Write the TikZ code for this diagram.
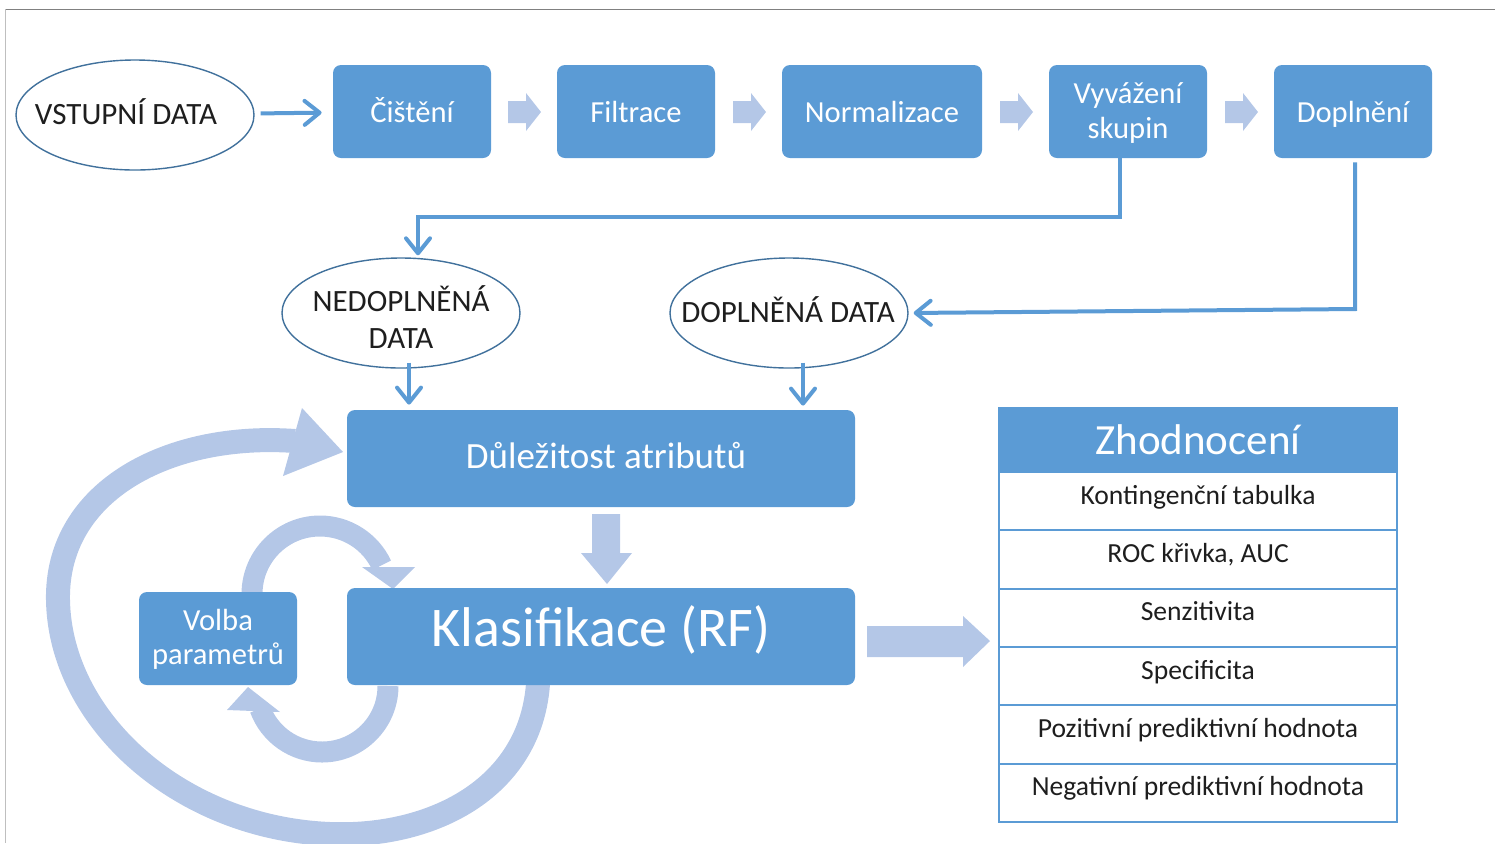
\documentclass[tikz,border=0pt]{standalone}
\usepackage{fontspec}
\setmainfont{Carlito}
\usetikzlibrary{arrows.meta,shapes.geometric,calc}
\definecolor{mblue}{HTML}{5B9BD5}
\definecolor{lblue}{HTML}{B4C7E7}
\definecolor{eblue}{HTML}{41719C}
\definecolor{txtc}{HTML}{1E1E1E}
\newcommand{\lowtwo}[2]{\raisebox{-1pt}[\height][\depth]{\begin{tabular}{@{}c@{}}#1\\#2\end{tabular}}}
\begin{document}
\begin{tikzpicture}[x=0.5pt,y=-0.5pt,
 pbox/.style={fill=mblue, draw=none, rounded corners=4pt, text=white, align=center, inner sep=0pt,
   minimum width=79pt, minimum height=46.5pt, font=\fontsize{15.3}{17.5}\selectfont},
 one/.style={text height=10.5pt, text depth=0pt},
 dataell/.style={ellipse, draw=eblue, line width=0.7pt, minimum width=119pt, minimum height=55pt, inner sep=0pt},
 etxt/.style={text=txtc, align=center, font=\fontsize{15.5}{18.5}\selectfont, inner sep=0pt},
 conn/.style={draw=mblue, line width=2pt, -{Straight Barb[length=7.5pt,width=12pt,round]}},
 loopc/.style={draw=lblue},
 trow/.style={draw=mblue, line width=1pt, minimum width=199pt, minimum height=29.15pt, inner sep=0pt,
   text=txtc, font=\fontsize{13.8}{16}\selectfont, text height=9pt, text depth=6pt},
]
\useasboundingbox (0,0) rectangle (1495,843);
\clip (0,0) rectangle (1495,843);
% frame lines
\draw[gray, line width=0.5pt] (5,9) -- (1495,9);
\draw[gray!50, line width=0.5pt] (5,9) -- (5,843);

% thick light loops (under boxes)
\draw[loopc, line width=12pt] (538,684) .. controls (530,790) and (430,838) .. (330,834)
   .. controls (180,828) and (60,720) .. (58,600)
   .. controls (56,490) and (170,432) .. (295,441);
\fill[lblue] (343,452) -- (302,408) -- (283,476) -- cycle;
\draw[loopc, line width=10.5pt] (252,594) arc[start angle=180, end angle=335, radius=68];
\fill[lblue] (362,567) -- (415,567) -- (393,589) -- cycle;
\draw[loopc, line width=10.5pt] (388,686) arc[start angle=0, end angle=160, radius=66];
\fill[lblue] (248,687) -- (227,710) -- (280,712) -- cycle;

% input ellipse
\node[dataell] (vst) at (135,115) {};
\node[etxt, anchor=base] (vstt) at (126,124.5) {VSTUPNÍ DATA};

% pipeline boxes
\node[pbox, one] (cis) at (412,111.5) {Čištění};
\node[pbox, one] (fil) at (636,111.5) {Filtrace};
\node[pbox, one, minimum width=100pt] (nor) at (882,111.5) {Normalizace};
\node[pbox] (vyv) at (1128,111.5) {\lowtwo{Vyvážení}{skupin}};
\node[pbox, one] (dop) at (1353,111.5) {Doplnění};

% small block arrows
\foreach \x in {508,733,1000,1225}{
  \fill[lblue] (\x,101) -- (\x+18,101) -- (\x+18,93) -- (\x+33,112) -- (\x+18,131) -- (\x+18,123) -- (\x,123) -- cycle;
}

\draw[conn, shorten <=3pt, shorten >=5.5pt] (vst) -- (cis);

% data ellipses
\node[dataell] (ned) at (401,313) {};
\node[etxt] (nedt) at (401,317) {NEDOPLNĚNÁ\\DATA};
\node[dataell] (dd) at (789,313) {};
\node[etxt, anchor=base] (ddt) at (788,322.5) {DOPLNĚNÁ DATA};

% connectors from pipeline
\draw[conn, shorten >=1pt] ([xshift=-4pt]vyv.south) -- ++(0,59) -| ([xshift=8.5pt]ned.north);
\coordinate (dc) at (1355,309);
\draw[conn, shorten >=2.5pt] ([xshift=1pt,yshift=-2pt]dop.south) -- (dc) -- (dd.east);

% main boxes
\node[pbox, minimum width=254pt, minimum height=48.5pt, font=\fontsize{18.5}{21}\selectfont, text height=10pt, text depth=0pt] (dul) at (601,458.5) {\hspace*{5pt}Důležitost atributů};
\node[pbox, minimum width=254pt, minimum height=48.5pt, font=\fontsize{28}{32}\selectfont, text height=18.5pt, text depth=9pt] (kla) at (601,636.5) {Klasifikace (RF)};
\node[pbox, font=\fontsize{15.3}{17}\selectfont] (vol) at (218,638.5) {\lowtwo{Volba}{parametrů}};

\draw[conn, shorten >=2.5pt] ([xshift=4pt,yshift=3pt]ned.south) -- ([xshift=4pt]ned.south |- dul.north);
\draw[conn, shorten >=2pt] ([xshift=7pt,yshift=3pt]dd.south) -- ([xshift=7pt]dd.south |- dul.north);

% block arrow down
\fill[lblue] (592,514) -- (620,514) -- (620,553) -- (632,553) -- (607,584) -- (581,553) -- (592,553) -- cycle;
% block arrow right
\fill[lblue] (867,626) -- (963,626) -- (963,616) -- (990,641) -- (963,667) -- (963,657) -- (867,657) -- cycle;

% evaluation table
\node[draw=mblue, fill=mblue, line width=1pt, minimum width=199pt, minimum height=32pt, inner sep=0pt,
  text=white, font=\fontsize{21.5}{24}\selectfont, text height=14pt, text depth=0pt] (zh) at (1198,440) {Zhodnocení};
\node[trow] (r1) at (1198,501.2) {Kontingenční tabulka};
\node[trow] (r2) at (1198,559.5) {ROC křivka, AUC};
\node[trow] (r3) at (1198,617.8) {Senzitivita};
\node[trow] (r4) at (1198,676.2) {Specificita};
\node[trow] (r5) at (1198,734.5) {Pozitivní prediktivní hodnota};
\node[trow] (r6) at (1198,792.8) {Negativní prediktivní hodnota};
\end{tikzpicture}
\end{document}
